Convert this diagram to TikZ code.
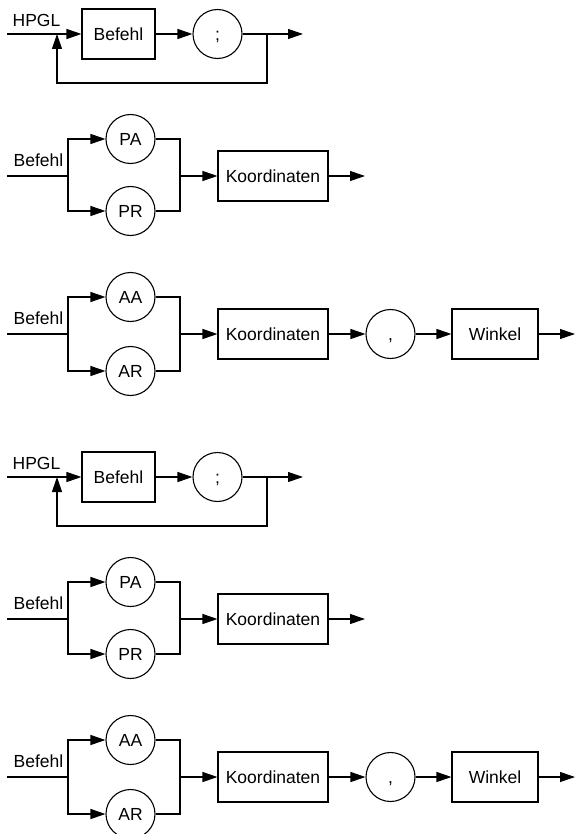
\documentclass[tikz,border=0pt]{standalone}
\usepackage{fontspec}
\setmainfont{Liberation Sans}
\usetikzlibrary{arrows.meta}
\begin{document}
\begin{tikzpicture}[x=1pt,y=-1pt,line width=1.1pt,
  every node/.style={font=\fontsize{17.5}{20}\selectfont,inner sep=0pt,text height=12.5pt,text depth=0pt},
  box/.style={draw,rectangle,minimum height=50pt},
  term/.style={draw,circle,minimum size=49pt},
  arr/.style={-{Triangle[length=15pt,width=10pt]}}
]
\useasboundingbox (0,0) rectangle (575,834);
\clip (0,0) rectangle (575,834);
\foreach \d/\t in {0/a,443/b}{
\begin{scope}[shift={(0,\d)}]
  % diagram 1
  \node (hpgl\t) at (36.5,20) {HPGL};
  \coordinate (s1\t) at (7,34);
  \node[box,minimum width=73pt] (bef\t) at (118.5,34) {Befehl};
  \node[term] (semi\t) at (217.5,34) {;};
  \coordinate (j1\t) at (267,34);
  \coordinate (e1\t) at (303,34);
  \coordinate (lp\t) at (57,83);
  \coordinate (lt\t) at (57,34);
  \draw[arr] (s1\t) -- (bef\t);
  \draw[arr] (bef\t) -- (semi\t);
  \draw[arr] (semi\t) -- (e1\t);
  \draw[arr] (j1\t) |- (lp\t) -- (lt\t);
  % diagram 2
  \node (lbl2\t) at (38.5,160) {Befehl};
  \coordinate (s2\t) at (7,176);
  \coordinate (br2\t) at (68,176);
  \node[term] (pa\t) at (130.5,139) {PA};
  \node[term] (pr\t) at (130.5,211) {PR};
  \coordinate (jm2\t) at (180,176);
  \node[box,minimum width=110pt] (k2\t) at (273,176) {Koordinaten};
  \coordinate (e2\t) at (365,176);
  \draw (s2\t) -- (br2\t);
  \draw[arr] (br2\t) |- (pa\t);
  \draw[arr] (br2\t) |- (pr\t);
  \draw (pa\t) -| (jm2\t);
  \draw (pr\t) -| (jm2\t);
  \draw[arr] (jm2\t) -- (k2\t);
  \draw[arr] (k2\t) -- (e2\t);
  % diagram 3
  \node (lbl3\t) at (38.5,318) {Befehl};
  \coordinate (s3\t) at (7,334);
  \coordinate (br3\t) at (68,334);
  \node[term] (aa\t) at (130.5,297) {AA};
  \node[term] (ar\t) at (130.5,371) {AR};
  \coordinate (jm3\t) at (180,334);
  \node[box,minimum width=110pt] (k3\t) at (273,334) {Koordinaten};
  \node[term] (comma\t) at (390.5,334) {,};
  \node[box,minimum width=86pt] (w3\t) at (495,334) {Winkel};
  \coordinate (e3\t) at (575,334);
  \draw (s3\t) -- (br3\t);
  \draw[arr] (br3\t) |- (aa\t);
  \draw[arr] (br3\t) |- (ar\t);
  \draw (aa\t) -| (jm3\t);
  \draw (ar\t) -| (jm3\t);
  \draw[arr] (jm3\t) -- (k3\t);
  \draw[arr] (k3\t) -- (comma\t);
  \draw[arr] (comma\t) -- (w3\t);
  \draw[arr] (w3\t) -- (e3\t);
\end{scope}
}
\end{tikzpicture}
\end{document}
